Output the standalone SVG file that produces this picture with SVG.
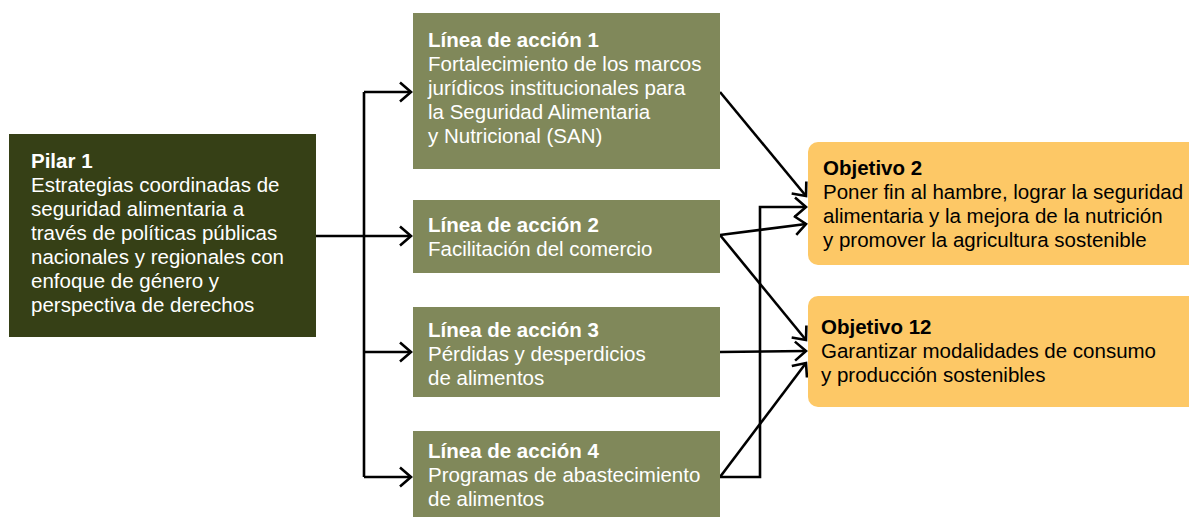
<svg xmlns="http://www.w3.org/2000/svg" width="1189" height="517" viewBox="0 0 1189 517">
<style>
.pilar{fill:#364016}
.linea{fill:#80885a}
.obj{fill:#fdc866}
text{font-family:"Liberation Sans",Arial,sans-serif;font-size:20.5px}
.w{fill:#ffffff}
.k{fill:#000000}
.b{font-weight:bold}
.c{fill:none;stroke:#000;stroke-width:2.6;stroke-linejoin:miter}
</style>
<defs>
<marker id="ah" markerUnits="userSpaceOnUse" markerWidth="30" markerHeight="30" viewBox="-15 -15 30 30" refX="0" refY="0" orient="auto" overflow="visible">
<path d="M-11,-9.5 L0,0 L-11,9.5" fill="none" stroke="#000" stroke-width="2.6"/>
</marker>
</defs>
<rect width="1189" height="517" fill="#ffffff"/>
<g id="connectors">
<path class="c" d="M316,236 H364"/>
<path class="c" d="M364,92 V477"/>
<path class="c" d="M364,92 H411" marker-end="url(#ah)"/>
<path class="c" d="M364,236 H411" marker-end="url(#ah)"/>
<path class="c" d="M364,352 H411" marker-end="url(#ah)"/>
<path class="c" d="M364,477 H411" marker-end="url(#ah)"/>
<path class="c" d="M720,92 L806,196" marker-end="url(#ah)"/>
<path class="c" d="M720,477 H760 V207 H806" marker-end="url(#ah)"/>
<path class="c" d="M720,235 L806,224" marker-end="url(#ah)"/>
<path class="c" d="M720,235 L806,340" marker-end="url(#ah)"/>
<path class="c" d="M720,352 L806,351" marker-end="url(#ah)"/>
<path class="c" d="M720,477 L806,363" marker-end="url(#ah)"/>
</g>
<g id="pilar1">
<rect class="pilar" x="9" y="134" width="307" height="203"/>
<text class="w b" x="31" y="168">Pilar 1</text>
<text class="w" x="31" y="192">Estrategias coordinadas de</text>
<text class="w" x="31" y="216">seguridad alimentaria a</text>
<text class="w" x="31" y="240">través de políticas públicas</text>
<text class="w" x="31" y="264">nacionales y regionales con</text>
<text class="w" x="31" y="288">enfoque de género y</text>
<text class="w" x="31" y="312">perspectiva de derechos</text>
</g>
<g id="linea1">
<rect class="linea" x="413" y="13" width="307" height="156"/>
<text class="w b" x="428" y="47">Línea de acción 1</text>
<text class="w" x="428" y="71">Fortalecimiento de los marcos</text>
<text class="w" x="428" y="95">jurídicos institucionales para</text>
<text class="w" x="428" y="119">la Seguridad Alimentaria</text>
<text class="w" x="428" y="143">y Nutricional (SAN)</text>
</g>
<g id="linea2">
<rect class="linea" x="413" y="200" width="307" height="73"/>
<text class="w b" x="428" y="232">Línea de acción 2</text>
<text class="w" x="428" y="256">Facilitación del comercio</text>
</g>
<g id="linea3">
<rect class="linea" x="413" y="307" width="307" height="90"/>
<text class="w b" x="428" y="337">Línea de acción 3</text>
<text class="w" x="428" y="361">Pérdidas y desperdicios</text>
<text class="w" x="428" y="385">de alimentos</text>
</g>
<g id="linea4">
<rect class="linea" x="413" y="431" width="307" height="90"/>
<text class="w b" x="428" y="458">Línea de acción 4</text>
<text class="w" x="428" y="482">Programas de abastecimiento</text>
<text class="w" x="428" y="506">de alimentos</text>
</g>
<g id="objetivo2">
<rect class="obj" x="808" y="142" width="392" height="123" rx="10" ry="10"/>
<text class="k b" x="823" y="175">Objetivo 2</text>
<text class="k" x="823" y="199">Poner fin al hambre, lograr la seguridad</text>
<text class="k" x="823" y="223">alimentaria y la mejora de la nutrición</text>
<text class="k" x="823" y="247">y promover la agricultura sostenible</text>
</g>
<g id="objetivo12">
<rect class="obj" x="808" y="296" width="392" height="111" rx="10" ry="10"/>
<text class="k b" x="821" y="334">Objetivo 12</text>
<text class="k" x="821" y="358">Garantizar modalidades de consumo</text>
<text class="k" x="821" y="382">y producción sostenibles</text>
</g>
</svg>
